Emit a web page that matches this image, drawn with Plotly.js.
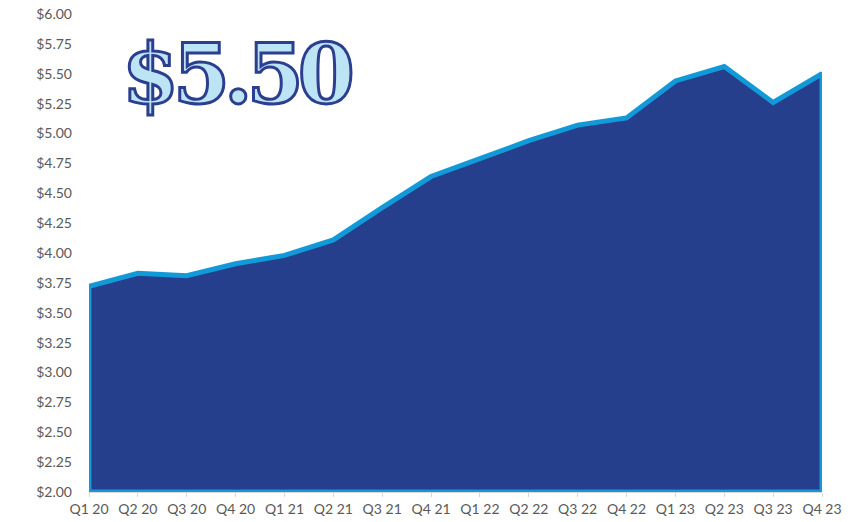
<!DOCTYPE html>
<html>
<head>
<meta charset="utf-8">
<script src="https://cdn.plot.ly/plotly-3.0.1.min.js"></script>
<style>html,body{margin:0;padding:0;background:#fff;}#chart{width:859px;height:522px;}</style>
</head>
<body>
<div id="chart"></div>
<script>
const quarters = ["Q1 20","Q2 20","Q3 20","Q4 20","Q1 21","Q2 21","Q3 21","Q4 21","Q1 22","Q2 22","Q3 22","Q4 22","Q1 23","Q2 23","Q3 23","Q4 23"];
const prices = [3.72,3.83,3.81,3.91,3.98,4.11,4.38,4.64,4.79,4.94,5.07,5.13,5.44,5.56,5.26,5.50];
const yTickVals = [2,2.25,2.5,2.75,3,3.25,3.5,3.75,4,4.25,4.5,4.75,5,5.25,5.5,5.75,6];
const headline = "$5.50";
const yMin = 2, yMax = 6;

// closed outline: along data, then down to axis floor and back
const xs = quarters.concat([quarters[quarters.length-1], quarters[0], quarters[0]]);
const ys = prices.concat([yMin, yMin, prices[0]]);

const trace = {
  x: xs, y: ys, type: 'scatter', mode: 'lines',
  fill: 'toself', fillcolor: '#253F8C',
  line: {color: '#1199D8', width: 5},
  hoverinfo: 'skip', showlegend: false
};

const layout = {
  width: 859, height: 522,
  margin: {l: 89, r: 37, t: 14, b: 30},
  paper_bgcolor: '#fff', plot_bgcolor: '#fff',
  font: {family: 'Lato, "Open Sans", sans-serif', size: 14, color: '#595959'},
  xaxis: {
    type: 'category', categoryorder: 'array', categoryarray: quarters,
    range: [0, quarters.length-1],
    showgrid: false, zeroline: false,
    showline: true, linecolor: '#D9D9D9', linewidth: 1,
    ticks: 'outside', ticklen: 4, tickcolor: '#D9D9D9',
    tickfont: {size: 14, color: '#595959'}
  },
  yaxis: {
    range: [yMin, yMax],
    tickvals: yTickVals,
    ticktext: yTickVals.map(v => '$' + v.toFixed(2)),
    showgrid: false, zeroline: false, showline: false,
    ticks: '', ticklabelstandoff: 16,
    tickfont: {size: 14, color: '#595959'}
  },
  annotations: [{
    text: headline, xref: 'paper', yref: 'paper', x: 0.2, y: 0.874,
    xanchor: 'center', yanchor: 'middle', showarrow: false,
    font: {family: '"DejaVu Serif", serif', size: 82, color: '#BDE4F4', weight: 'bold'}
  }]
};

Plotly.newPlot('chart', [trace], layout, {displayModeBar: false, staticPlot: true}).then(() => {
  document.querySelectorAll('.annotation-text').forEach(t => {
    t.style.stroke = '#2B3F8E';
    t.style.strokeWidth = '3px';
    t.style.letterSpacing = '-6px';
  });
});
</script>
</body>
</html>
